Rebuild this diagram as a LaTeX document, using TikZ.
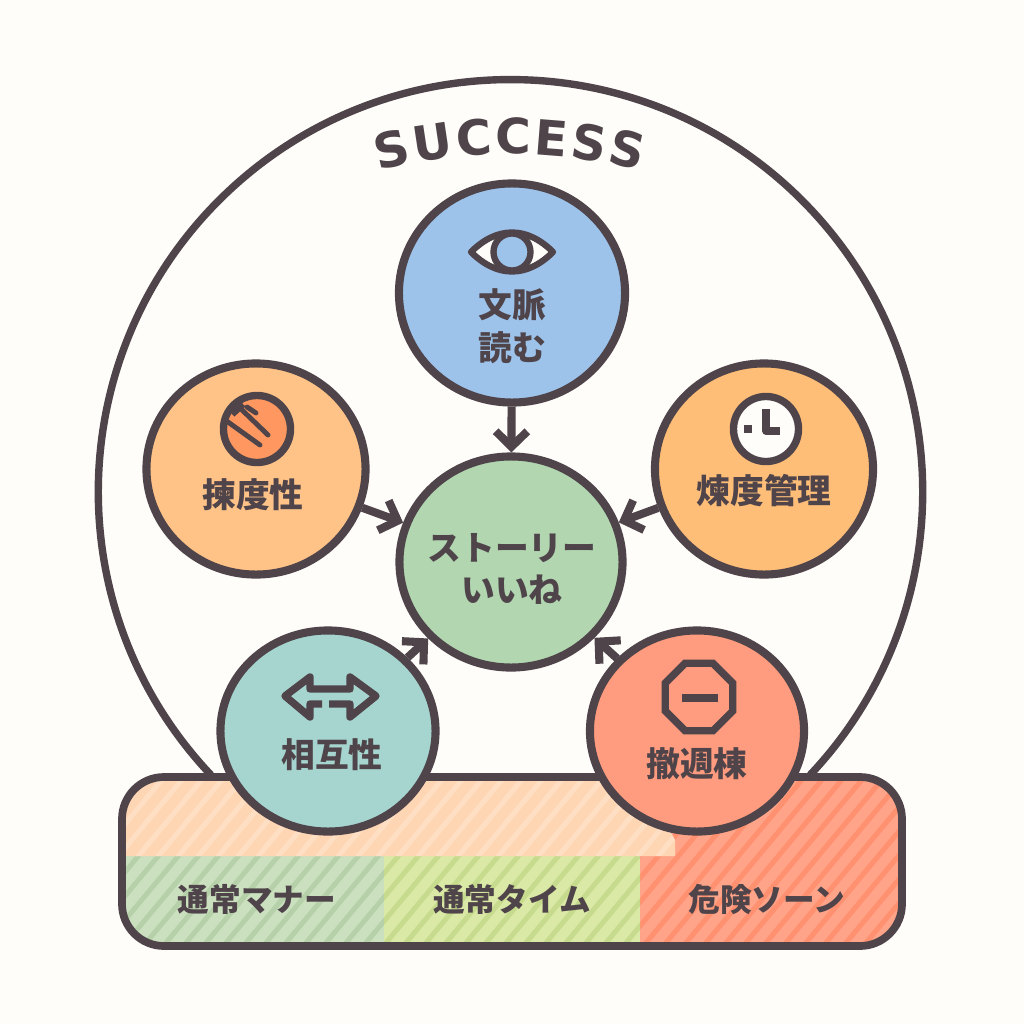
\documentclass[tikz,border=0pt]{standalone}
\usepackage{fontspec}
\setmainfont{DejaVu Sans}
\newfontfamily\cjk{Noto Sans CJK JP}
\usetikzlibrary{arrows.meta,shapes.geometric,decorations.text}

\definecolor{inkc}{HTML}{4F444A}
\definecolor{paperc}{HTML}{FEFDFA}
\definecolor{bluec}{HTML}{9DC3EB}
\definecolor{orangec}{HTML}{FFC388}
\definecolor{ambersc}{HTML}{FFBE78}
\definecolor{greenc}{HTML}{B1D6B0}
\definecolor{tealc}{HTML}{A6D5D0}
\definecolor{redc}{HTML}{FF9B7E}
\definecolor{discc}{HTML}{FF9860}
\definecolor{peachc}{HTML}{FFD6B4}
\definecolor{peachs}{HTML}{FFDFC4}
\definecolor{sagec}{HTML}{CBE0BF}
\definecolor{sages}{HTML}{B6D1AA}
\definecolor{limec}{HTML}{DBE9A6}
\definecolor{limes}{HTML}{C6DB8D}
\definecolor{zonec}{HTML}{FFA488}
\definecolor{zones}{HTML}{FF9070}

\tikzset{
    bubble/.style={ellipse, draw=inkc, line width=2.3pt, inner sep=0pt},
    bubbletext/.style={text=inkc, align=center, font=\cjk\bfseries\fontsize{9.6}{12.2}\selectfont},
    zonelabel/.style={text=inkc, font=\cjk\bfseries\fontsize{9}{11}\selectfont},
    iconline/.style={draw=inkc, line width=2.1pt, line join=round},
    flow/.style={draw=inkc, line width=2.3pt, -{Straight Barb[length=4.4pt,width=9pt]}}
}

\newcommand{\stripezone}[3]{
    \begin{scope}
        \clip #1;
        \fill[#2] #1;
        \foreach \sx in {-40,-20,...,1000} {
            \draw[#3, line width=1.4pt] (\sx,950) -- ++(150,-180);
        }
    \end{scope}
}

\begin{document}
\begin{tikzpicture}[x=0.01cm,y=-0.01cm]
    \useasboundingbox (0,0) rectangle (1024,1024);
    \fill[paperc] (0,0) rectangle (1024,1024);

    % Outer arc
    \draw[inkc, line width=2.1pt] (211,775) arc[start angle=223.4, end angle=-43.4, radius=4.12cm];

    \path[decorate, decoration={text along path, text align={fit to path}, text={|\fontsize{13.8}{14}\selectfont\bfseries\color{inkc}|SUCCESS}}]
        (379,171) arc[start angle=105, end angle=75, radius=5.05cm];

    % Bottom band
    \begin{scope}
        \clip[rounded corners=0.42cm] (122,777) rectangle (902,946);
        \stripezone{(640,777) rectangle (902,946)}{zonec}{zones}
        \stripezone{(122,856) rectangle (384,946)}{sagec}{sages}
        \stripezone{(384,856) rectangle (640,946)}{limec}{limes}
        \stripezone{(122,777) -- (640,777) -- (675,840) -- (675,856) -- (122,856) -- cycle}{peachc}{peachs}
    \end{scope}
    \draw[inkc, line width=2.2pt, rounded corners=0.42cm] (122,777) rectangle (902,946);

    \node[zonelabel] (manner) at (257,899) {通常マナー};
    \node[zonelabel] (timezone) at (512,899) {通常タイム};
    \node[zonelabel] (danger) at (767,899) {危険ソーン};

    % Circles
    \node[bubble, fill=greenc, minimum width=2.23cm, minimum height=2.11cm] (story) at (511,562) {};
    \node[bubble, fill=bluec, minimum width=2.26cm, minimum height=2.19cm] (context) at (512,293) {};
    \node[bubble, fill=orangec, minimum width=2.19cm, minimum height=2.11cm] (speed) at (256,469) {};
    \node[bubble, fill=ambersc, minimum width=2.18cm, minimum height=2.11cm] (freq) at (764,469) {};
    \node[bubble, fill=tealc, minimum width=2.15cm, minimum height=2.01cm] (mutual) at (328,731) {};
    \node[bubble, fill=redc, minimum width=2.14cm, minimum height=2.01cm] (retreat) at (697,731) {};

    \node[bubbletext] (storytext) at (512,569) {ストーリー\\いいね};
    \node[bubbletext] (contexttext) at (512,326) {文脈\\読む};
    \node[bubbletext] (speedtext) at (253,495) {揀度性};
    \node[bubbletext] (freqtext) at (764,491) {煉度管理};
    \node[bubbletext] (mutualtext) at (332,755) {相互性};
    \node[bubbletext] (retreattext) at (697,764) {撤週棟};

    % Arrows to the centre
    \draw[flow] (context) -- (story);
    \draw[flow] (speed) -- (story);
    \draw[flow] (freq) -- (story);
    \draw[flow] (mutual) -- (story);
    \draw[flow] (retreat) -- (story);

    % Eye icon
    \draw[iconline, line width=1.8pt, fill=paperc] (471,252) .. controls (497,226) and (527,226) .. (553,252) .. controls (527,278) and (497,278) .. (471,252) -- cycle;
    \draw[iconline, line width=1.8pt, fill=bluec] (512,252) circle[radius=0.185cm];

    % Clock icon
    \draw[iconline, fill=paperc] (766,429) circle[radius=0.325cm];
    \draw[iconline] (766,409) -- (766,431) -- (780,431);
    \fill[inkc] (744,425) rectangle (752,433);

    % Striped disc icon
    \draw[iconline, fill=discc] (257,429) circle[radius=0.335cm];
    \draw[inkc, line width=1.4pt, line cap=round] (228,422) -- (260,445);
    \draw[inkc, line width=1.4pt, line cap=round] (240,408) -- (268,435);
    \draw[inkc, line width=1.4pt, line cap=round] (247,407) -- (256,413);
    \draw[inkc, line width=2pt] (232,414) -- (243,404);

    % Two way arrow icon
    \draw[iconline] (322,704) -- (310,704) -- (310,717) -- (285,696) -- (310,677) -- (310,689) -- (350,689) -- (350,677) -- (376,696) -- (350,717) -- (350,704) -- (329,704);

    % Stop icon
    \node[regular polygon, regular polygon sides=8, draw=inkc, line width=2.1pt, minimum size=0.73cm, inner sep=0pt] (stopsign) at (699,697) {};
    \fill[inkc] (682,694) rectangle (718,702);
\end{tikzpicture}
\end{document}
